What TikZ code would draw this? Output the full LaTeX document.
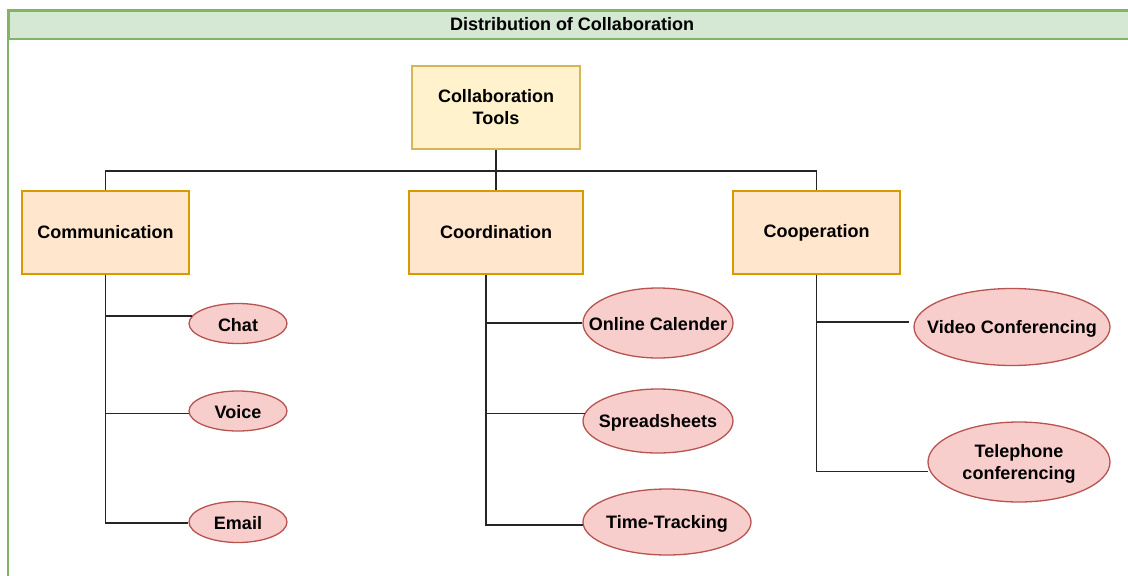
\documentclass[tikz,border=0pt]{standalone}
\usepackage{fontspec}
\setmainfont{Liberation Sans}
\usetikzlibrary{shapes.geometric,calc}
\definecolor{hdrfill}{HTML}{D5E8D4}
\definecolor{hdrline}{HTML}{82B366}
\definecolor{rootfill}{HTML}{FFF2CC}
\definecolor{rootline}{HTML}{D6B656}
\definecolor{midfill}{HTML}{FFE6CC}
\definecolor{midline}{HTML}{D79B00}
\definecolor{leaffill}{HTML}{F8CECC}
\definecolor{leafline}{HTML}{B85450}
\tikzset{
  txt/.style={font=\fontsize{18}{22}\selectfont\bfseries, text=black, align=center},
  header/.style={txt, draw=hdrline, fill=hdrfill, line width=1.5pt, inner sep=0pt},
  rootbox/.style={txt, draw=rootline, fill=rootfill, line width=1.5pt, inner sep=0pt},
  midbox/.style={txt, draw=midline, fill=midfill, line width=1.5pt, inner sep=0pt, minimum height=83pt},
  leaf/.style={ellipse, draw=leafline, fill=leaffill, line width=1.3pt, inner sep=0pt,
    label={[txt, inner sep=0pt, yshift=-1.5pt]center:#1}},
  link/.style={draw=black!85, line width=1.5pt},
}
\begin{document}
\begin{tikzpicture}[x=1pt,y=-1pt]
\useasboundingbox (0,0) rectangle (1128,576);
\clip (0,0) rectangle (1128,576);
% container
\draw[draw=hdrline, line width=1.5pt] (8,10) rectangle (1145,600);
\node[header, anchor=north west, minimum width=1137pt, minimum height=28pt] (title) at (8,10) {};
\node[txt] (titletext) at (572,24) {Distribution of Collaboration};
% main boxes
\node[rootbox, minimum width=168pt, minimum height=83pt] (root) at (496,107.5) {Collaboration\\Tools};
\node[midbox, minimum width=167pt] (comm) at (105.5,232.5) {Communication};
\node[midbox, minimum width=174pt] (coord) at (496,232.5) {Coordination};
\node[midbox, minimum width=167pt] (coop) at (816.5,232.5) {Cooperation};
% leaves
\node[leaf={Chat}, minimum width=98pt, minimum height=40pt] (chat) at (238,323.5) {};
\node[leaf={Voice}, minimum width=98pt, minimum height=40pt] (voice) at (238,411) {};
\node[leaf={Email}, minimum width=98pt, minimum height=41pt] (email) at (238,522) {};
\node[leaf={Online Calender}, minimum width=150pt, minimum height=70pt] (online) at (658,323) {};
\node[leaf={Spreadsheets}, minimum width=150pt, minimum height=64pt] (sheets) at (658,421) {};
\node[leaf={Time-Tracking}, minimum width=168pt, minimum height=66pt] (time) at (667,522) {};
\node[leaf={Video Conferencing}, minimum width=196pt, minimum height=77pt] (video) at (1012,327) {};
\node[leaf={Telephone\\conferencing}, minimum width=182pt, minimum height=80pt] (tele) at (1019,462) {};
% tree connectors
\coordinate (bus) at ($(root.south)+(0,21)$);
\draw[link] (root.south) -- (bus);
\draw[link] (bus) -| (comm.north);
\draw[link] (bus) -- (coord.north);
\draw[link] (bus) -| (coop.north);
% communication
\draw[link] (comm.south) |- (chat.171);
\draw[link] (comm.south) |- (voice.183);
\draw[link] (comm.south) |- (email.181);
% coordination
\coordinate (cstem) at ($(coord.south)+(-10,0)$);
\draw[link] (cstem) |- (online.180);
\draw[link] (cstem) |- (sheets.174.5);
\draw[link] (cstem) |- (time.182.5);
% cooperation
\draw[link] (coop.south) |- ([xshift=-5pt]video.177);
\draw[link] (coop.south) |- ([xshift=-2pt]tele.186);
\end{tikzpicture}
\end{document}
